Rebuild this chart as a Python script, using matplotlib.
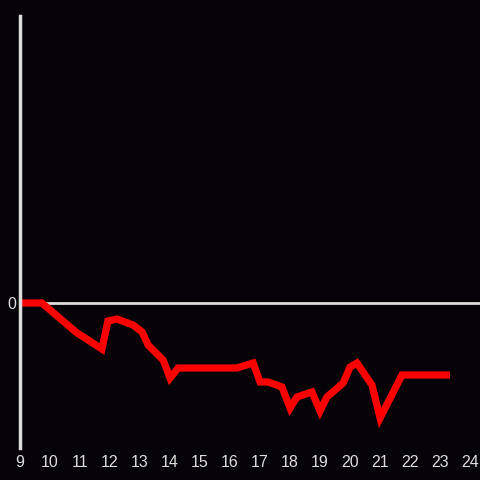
"""plot.py — intraday change line on dark background"""
import matplotlib
matplotlib.use("Agg")
import matplotlib.pyplot as plt

hours = [9.0, 9.73, 10.9, 11.17, 11.73, 11.93, 12.23, 12.77, 13.07, 13.27,
         13.77, 14.0, 14.27, 16.23, 16.33, 16.77, 17.0, 17.27, 17.73, 18.0,
         18.23, 18.73, 19.0, 19.23, 19.77, 20.0, 20.23, 20.73, 21.0, 21.73, 23.33]
change = [0.0, 0.0, -3.0, -3.5, -4.6, -1.8, -1.6, -2.2, -2.9, -4.2,
          -5.7, -7.5, -6.5, -6.5, -6.4, -6.0, -7.9, -7.9, -8.4, -10.5,
          -9.4, -8.9, -10.8, -9.4, -8.0, -6.4, -6.0, -8.2, -11.5, -7.2, -7.2]
xticks = list(range(9, 25))

bg, fg = "#050307", "#dddddd"
plt.rcParams["font.family"] = ["Liberation Sans", "DejaVu Sans"]

fig = plt.figure(figsize=(4.8, 4.8), dpi=100, facecolor=bg)
ax = fig.add_axes([20 / 480, 32 / 480, 460 / 480, 432 / 480], facecolor=bg)

ax.axhline(0, color=fg, lw=2, zorder=1)
ax.plot(hours, change, color="#ff0000", lw=5.2, solid_joinstyle="miter",
        solid_capstyle="butt", zorder=2)

ax.set_xlim(9, 24.33)
ax.set_ylim(-14.5, 28.7)
ax.set_xticks(xticks)
ax.set_yticks([0])
ax.tick_params(length=0, colors=fg, labelsize=11.5, pad=5)
ax.tick_params(axis="y", pad=3)
for s in ("top", "right", "bottom"):
    ax.spines[s].set_visible(False)
ax.spines["left"].set_color(fg)
ax.spines["left"].set_linewidth(2.5)

fig.savefig("out.png", facecolor=bg)
